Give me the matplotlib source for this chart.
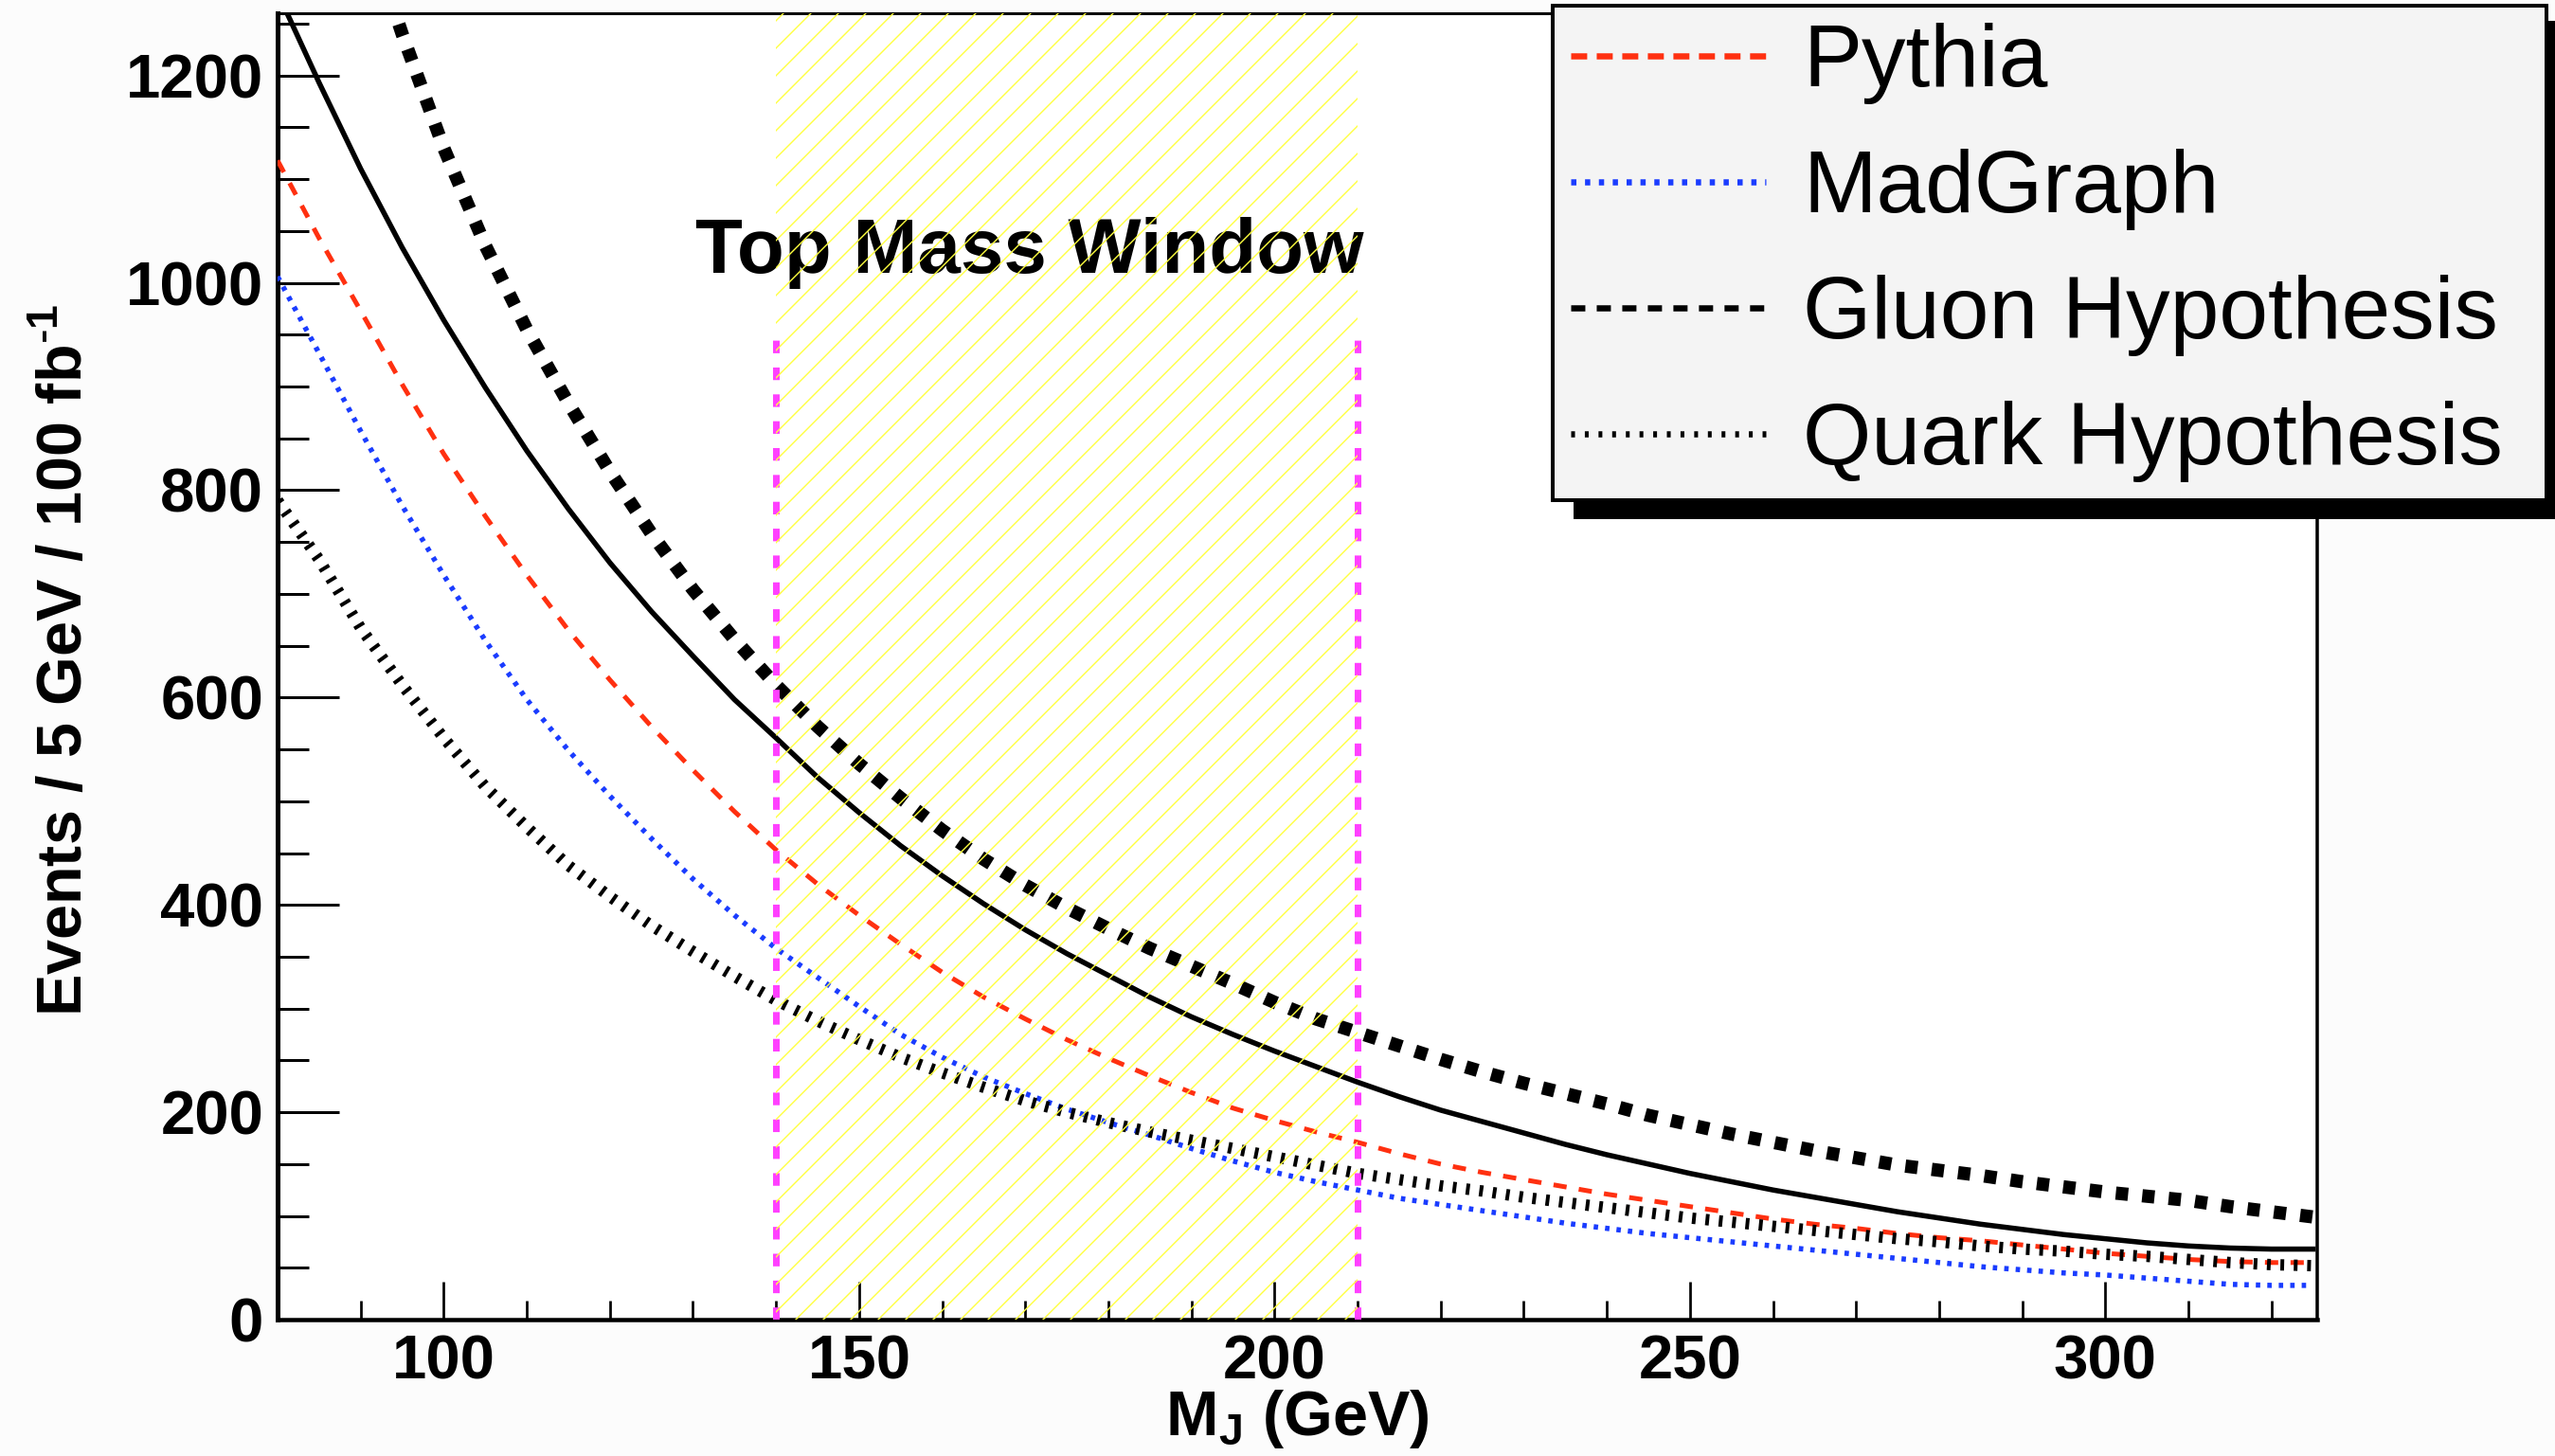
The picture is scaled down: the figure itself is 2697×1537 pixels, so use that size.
import numpy as np
import matplotlib
matplotlib.use('Agg')
from matplotlib import pyplot as plt
from matplotlib.lines import Line2D
from matplotlib.ticker import MultipleLocator

DPI = 174
PX = 72.0 / DPI   # one output pixel in points

# jet mass (GeV, 5 GeV bins) and events / 5 GeV / 100 fb^-1
mass = list(range(80, 330, 5))
total = [1280, 1193, 1110, 1034, 964, 899, 838, 782, 730, 683,
         640, 598, 561, 523, 489, 457, 428, 401, 376, 353,
         332, 311, 292, 275, 259, 244, 229, 215, 202, 191,
         180, 169, 159, 150, 141, 133, 125, 118, 111, 104,
         98, 92, 87, 82, 78, 74, 71, 69, 68, 68]
pythia = [1118, 1043, 973, 902, 835, 775, 718, 665, 617, 572,
          530, 490, 453, 420, 390, 362, 335, 311, 290, 270,
          252, 235, 219, 204, 192, 181, 171, 160, 150, 142,
          135, 128, 121, 115, 109, 103, 97, 92, 88, 83,
          79, 76, 72, 68, 64, 61, 58, 56, 55, 55]
madgraph = [1006, 932, 857, 785, 718, 655, 598, 549, 505, 464,
            425, 390, 358, 330, 302, 275, 253, 234, 218, 203,
            190, 178, 165, 153, 142, 133, 125, 117, 111, 105,
            99, 93, 88, 83, 79, 75, 71, 67, 63, 59,
            55, 51, 48, 45, 43, 40, 37, 34, 33, 33]
gluon = [1640, 1490, 1360, 1240, 1130, 1036, 955, 884, 818, 758,
         704, 656, 612, 572, 536, 503, 472, 444, 419, 397,
         377, 358, 341, 324, 306, 290, 277, 264, 251, 239,
         228, 218, 208, 197, 188, 179, 171, 163, 156, 149,
         144, 139, 133, 128, 123, 119, 115, 109, 104, 99]
quark = [790, 733, 667, 612, 561, 514, 475, 438, 408, 380,
         355, 331, 308, 288, 270, 253, 238, 224, 211, 200,
         190, 181, 173, 165, 157, 149, 141, 135, 129, 124,
         118, 113, 108, 103, 98, 94, 90, 86, 82, 78,
         75, 71, 68, 66, 63, 61, 58, 55, 53, 52]

window_lo, window_hi = 140, 210
window_line_top = 945
window_label = 'Top Mass Window'

labels = ['Pythia', 'MadGraph', 'Gluon Hypothesis', 'Quark Hypothesis']

red = '#ff3010'
blue = '#1a3cff'
magenta = '#ff40ff'
yellow = '#ffff40'

plt.rcParams['font.family'] = ['Liberation Sans', 'DejaVu Sans']
plt.rcParams['mathtext.fontset'] = 'custom'
plt.rcParams['mathtext.rm'] = 'Liberation Sans'
plt.rcParams['mathtext.bf'] = 'Liberation Sans:bold'
plt.rcParams['hatch.linewidth'] = 1.4 * PX

fig = plt.figure(figsize=(2697 / DPI, 1537 / DPI), dpi=DPI, facecolor='#fcfcfc')
ax = fig.add_axes([293 / 2697, 1 - 1393 / 1537, (2446 - 293) / 2697, (1393 - 14) / 1537])
ax.set_facecolor('white')

ax.plot(mass, madgraph, color=blue, lw=5.5 * PX, dashes=(0.85, 1.35), zorder=3)
ax.plot(mass, pythia, color=red, lw=5 * PX, dashes=(2.8, 2.6), zorder=3)
ax.plot(mass, quark, color='black', lw=12 * PX, dashes=(0.33, 0.85), zorder=3)
ax.plot(mass, total, color='black', lw=5.5 * PX, zorder=3)
ax.plot(mass, gluon, color='black', lw=14 * PX, dashes=(0.93, 1.07), zorder=3)

ax.text(170.5, 1010, window_label, ha='center', va='baseline',
        fontsize=33.8, fontweight='bold', zorder=2)
ax.vlines([window_lo, window_hi], 0, window_line_top, colors=magenta, lw=7 * PX,
          linestyles=(0, (1.9, 2.15)), zorder=4)
ax.axvspan(window_lo, window_hi, facecolor='none', edgecolor=yellow, hatch='//',
           linewidth=0, zorder=6)

ax.set_xlim(80, 325.5)
ax.set_ylim(0, 1260)
ax.xaxis.set_major_locator(MultipleLocator(50))
ax.xaxis.set_minor_locator(MultipleLocator(10))
ax.yaxis.set_major_locator(MultipleLocator(200))
ax.yaxis.set_minor_locator(MultipleLocator(50))
ax.tick_params(which='both', direction='in', top=False, right=False)
ax.tick_params(axis='y', which='major', length=65 * PX, width=3 * PX, pad=15 * PX)
ax.tick_params(axis='y', which='minor', length=33 * PX, width=3 * PX)
ax.tick_params(axis='x', which='major', length=40 * PX, width=2.7 * PX, pad=15 * PX)
ax.tick_params(axis='x', which='minor', length=20 * PX, width=2.7 * PX)
for lab in ax.get_xticklabels() + ax.get_yticklabels():
    lab.set_fontsize(27)
    lab.set_fontweight('bold')

ax.spines['left'].set_linewidth(5 * PX)
ax.spines['bottom'].set_linewidth(4.5 * PX)
ax.spines['top'].set_linewidth(3 * PX)
ax.spines['right'].set_linewidth(3.5 * PX)

ax.set_xlabel(r'M$_{\mathbf{J}}$ (GeV)', fontsize=27.5, fontweight='bold', va='top')
ax.xaxis.set_label_coords(0.5, -0.052)
ax.set_ylabel(r'Events / 5 GeV / 100 fb$^{\mathbf{\text{-}1}}$', fontsize=27.5,
              fontweight='bold', va='center')
ax.yaxis.set_label_coords(-0.104, 0.505)

handles = [Line2D([], [], color=red, lw=6.5 * PX, dashes=(2.6, 1.55)),
           Line2D([], [], color=blue, lw=6.5 * PX, dashes=(0.85, 1.4)),
           Line2D([], [], color='black', lw=6.5 * PX, dashes=(2.3, 1.85)),
           Line2D([], [], color='black', lw=6.5 * PX, dashes=(0.62, 1.6))]
leg = fig.legend(handles, labels, loc='lower left', mode='expand',
                 bbox_to_anchor=(1639 / 2697, 1 - 528 / 1537, (2688 - 1639) / 2697, 0.2),
                 bbox_transform=fig.transFigure,
                 borderaxespad=0, fontsize=38.5, handlelength=2.22, handletextpad=0.42,
                 labelspacing=0.505, borderpad=0.2, fancybox=False, framealpha=1,
                 shadow={'color': 'black', 'alpha': 1, 'ox': 24 * PX, 'oy': -18 * PX})
leg.get_frame().set_facecolor('#f4f4f4')
leg.get_frame().set_edgecolor('black')
leg.get_frame().set_linewidth(4 * PX)

fig.savefig('out.png', dpi=DPI, facecolor=fig.get_facecolor())
